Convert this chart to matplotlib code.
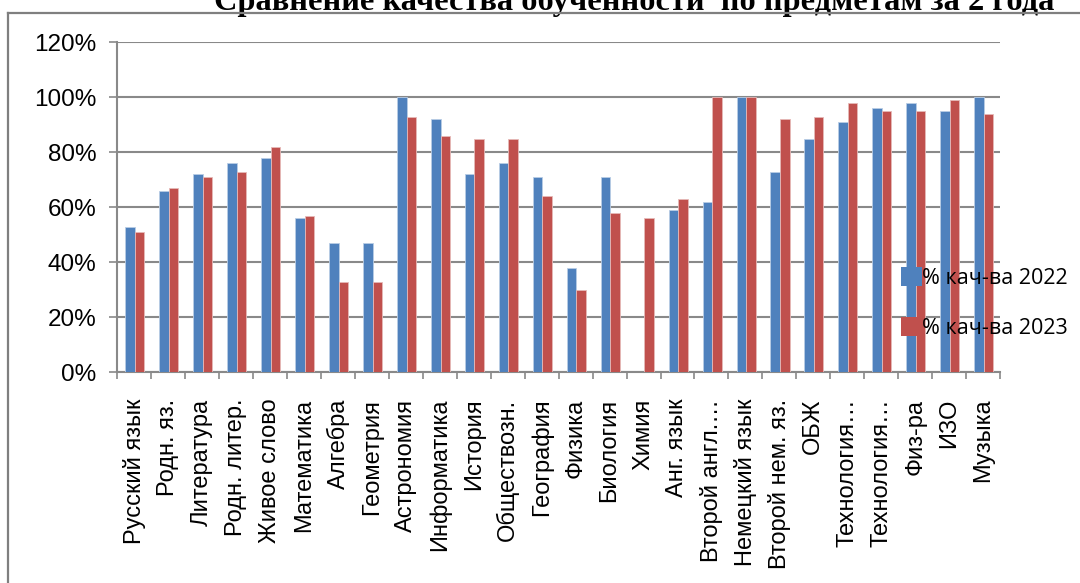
import matplotlib
matplotlib.use("Agg")
import matplotlib.pyplot as plt
from matplotlib.patches import Patch
from matplotlib.lines import Line2D
import numpy as np

categories = ["Русский язык", "Родн. яз.", "Литература", "Родн. литер.", "Живое слово",
              "Математика", "Алгебра", "Геометрия", "Астрономия", "Информатика",
              "История", "Обществозн.", "География", "Физика", "Биология", "Химия",
              "Анг. язык", "Второй англ.…", "Немецкий язык", "Второй нем. яз.", "ОБЖ",
              "Технология…", "Технология…", "Физ-ра", "ИЗО", "Музыка"]
q2022 = [53, 66, 72, 76, 78, 56, 47, 47, 100, 92, 72, 76, 71, 38, 71, 0,
         59, 62, 100, 73, 85, 91, 96, 98, 95, 100]
q2023 = [51, 67, 71, 73, 82, 57, 33, 33, 93, 86, 85, 85, 64, 30, 58, 56,
         63, 100, 100, 92, 93, 98, 95, 95, 99, 94]
series_labels = ["% кач-ва 2022", "% кач-ва 2023"]
yticks = [0, 20, 40, 60, 80, 100, 120]
title = "Сравнение качества обученности  по предметам за 2 года"

BLUE = "#4F81BD"
RED = "#C0504D"
GRID = "#898989"

fig = plt.figure(figsize=(10.8, 5.83), dpi=100)
ax = fig.add_axes([117.3 / 1080, 1 - 372.3 / 583, (1000 - 117.3) / 1080, (372.3 - 42.3) / 583])

x = np.arange(len(categories))
w = 0.28
ax.bar(x - 0.12, q2022, width=w, color=BLUE, edgecolor="#B9CDE5", linewidth=0.6, zorder=3)
ax.bar(x + 0.16, q2023, width=w, color=RED, edgecolor="#E6B9B8", linewidth=0.6, zorder=3)

ax.set_xlim(-0.5, len(categories) - 0.5)
ax.set_ylim(0, 120)
ax.set_yticks(yticks)
ax.set_yticklabels([f"{v}%" for v in yticks], family="Liberation Sans", fontsize=17.5)
ax.yaxis.grid(True, color=GRID, linewidth=1.5, zorder=0)
ax.set_axisbelow(True)

ax.set_xticks(np.arange(len(categories) + 1) - 0.5, minor=False)
ax.set_xticklabels([])
ax.set_xticks(x, minor=True)
ax.set_xticklabels(categories, minor=True, rotation=90, family="Liberation Sans",
                   fontsize=17, va="top", ha="center")
ax.tick_params(axis="x", which="major", length=5, color=GRID, width=1.2)
ax.tick_params(axis="x", which="minor", length=0, pad=19)
ax.tick_params(axis="y", length=6, color=GRID, width=1.2, pad=9)

for s in ["top", "right"]:
    ax.spines[s].set_visible(False)
for s in ["left", "bottom"]:
    ax.spines[s].set_color(GRID)
    ax.spines[s].set_linewidth(1.5)

handles = [Patch(facecolor=BLUE), Patch(facecolor=RED)]
leg = ax.legend(handles, series_labels, frameon=False, loc="center left",
                bbox_to_anchor=(890 / 1080, 1 - 303 / 583), bbox_transform=fig.transFigure,
                prop={"family": "Open Sans", "size": 15.5}, handlelength=1.0, handleheight=1.0,
                handletextpad=0.0, labelspacing=1.3, borderpad=0)
leg.set_zorder(5)

# chart frame
FRAME_Y = 1 - 13 / 583
fig.add_artist(Line2D([8 / 1080, 8 / 1080], [0, FRAME_Y], transform=fig.transFigure,
                      color="#7F7F7F", linewidth=1.6, zorder=10))
fig.add_artist(Line2D([8 / 1080, 1], [FRAME_Y, FRAME_Y], transform=fig.transFigure,
                      color="#7F7F7F", linewidth=1.6, zorder=10))

fig.text(634 / 1080, 1 - 10 / 583, title, ha="center", va="baseline",
         family="Liberation Serif", fontweight="bold", fontsize=23.3, zorder=5)

fig.savefig("out.png", dpi=100)
